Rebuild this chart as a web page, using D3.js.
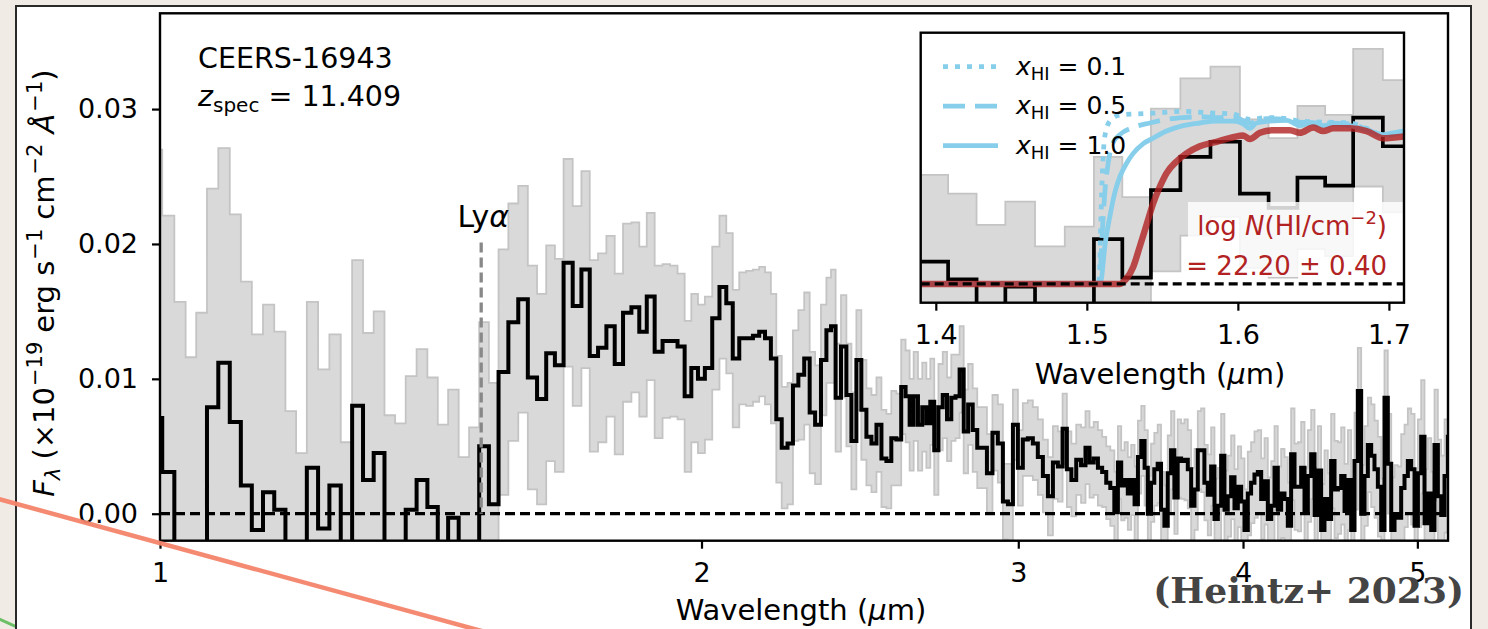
<!DOCTYPE html>
<html>
<head>
<meta charset="utf-8">
<style>
  body { margin: 0; background: #f0ece5; }
  svg text { font-family: "DejaVu Sans", sans-serif; fill: #000; }
</style>
</head>
<body>
<svg id="chart" width="1488" height="629"></svg>
<script src="https://d3js.org/d3.v7.min.js"></script>
<script>
// ---- spectrum (bin centres in micron, flux and 1-sigma error in 1e-19 erg/s/cm2/A) ----
const wave = [
  0.995, 1.0108, 1.0263, 1.0404, 1.0545, 1.0695, 1.0855, 1.1014, 1.1167, 1.1328,
  1.1491, 1.1659, 1.1825, 1.1982, 1.2154, 1.2332, 1.2511, 1.2696, 1.2881, 1.3055,
  1.3237, 1.3421, 1.3601, 1.3791, 1.3986, 1.4177, 1.4363, 1.4558, 1.4756, 1.4952,
  1.5142, 1.5328,
  1.5521, 1.5718, 1.5919, 1.6108, 1.6299, 1.6490, 1.6666, 1.6861, 1.7059, 1.7242,
  1.7426, 1.7613, 1.7802, 1.7992, 1.8186, 1.8381, 1.8557, 1.8736, 1.8936, 1.9119,
  1.9303, 1.9489, 1.9657, 1.9825, 1.9994, 2.0179, 2.0374, 2.0557, 2.0732, 2.0900,
  2.1080, 2.1270, 2.1452, 2.1613, 2.1775, 2.1939, 2.2080, 2.2245, 2.2411, 2.2555,
  2.2724, 2.2896, 2.3043, 2.3217, 2.3392, 2.3542, 2.3670,
  2.382, 2.400, 2.415, 2.431, 2.446, 2.462, 2.478, 2.494, 2.510, 2.526,
  2.542, 2.558, 2.575, 2.590, 2.604, 2.617, 2.631, 2.646, 2.660, 2.674,
  2.687, 2.701, 2.716, 2.731, 2.746, 2.761, 2.776, 2.790, 2.805, 2.822,
  2.838, 2.855, 2.872, 2.892, 2.913, 2.932, 2.951, 2.970, 2.989, 3.008,
  3.027, 3.047, 3.066, 3.086, 3.106, 3.126, 3.146, 3.166, 3.184, 3.201,
  3.221, 3.241, 3.261, 3.278, 3.295, 3.313, 3.331, 3.349, 3.366, 3.384,
  3.401, 3.415, 3.430, 3.444, 3.459, 3.474, 3.489, 3.504, 3.519, 3.534,
  3.548, 3.563, 3.578, 3.594, 3.609, 3.625, 3.640, 3.656, 3.671, 3.687,
  3.703, 3.719, 3.735, 3.751, 3.767, 3.783, 3.799, 3.815, 3.832, 3.848,
  3.865, 3.881, 3.898, 3.914, 3.931, 3.948, 3.965, 3.982, 3.999, 4.016,
  4.033, 4.050, 4.068, 4.085, 4.103, 4.120, 4.138, 4.156, 4.173, 4.191,
  4.209, 4.227, 4.245, 4.263, 4.282, 4.300, 4.318, 4.337, 4.355, 4.374,
  4.393, 4.411, 4.430, 4.449, 4.468, 4.487, 4.507, 4.526, 4.545, 4.565,
  4.584, 4.604, 4.623, 4.643, 4.663, 4.683, 4.703, 4.723, 4.743, 4.764,
  4.784, 4.804, 4.825, 4.846, 4.866, 4.887, 4.908, 4.929, 4.950, 4.971,
  4.993, 5.014, 5.035, 5.057, 5.079, 5.100, 5.122, 5.144, 5.166, 5.188,
  5.210
];
const flux = [
  0.0071, 0.0031, -0.0028, -0.0064, -0.0026, 0.0079, 0.0112, 0.0068, 0.0021, -0.0012,
  0.0016, 0.0003, -0.0054, -0.0082, 0.0034, -0.0011, 0.0021, -0.0057, 0.0080, 0.0025,
  0.0045, -0.0030, -0.0034, 0.0003, 0.0025, 0.0005, -0.0030, -0.0003, -0.0052, -0.0029,
  0.0050, 0.0007,
  0.0105, 0.0142, 0.0159, 0.0101, 0.0085, 0.0119, 0.0110, 0.0186, 0.0154, 0.0181,
  0.0117, 0.0123, 0.0139, 0.0111, 0.0149, 0.0153, 0.0135, 0.0161, 0.0120, 0.0128,
  0.0128, 0.0124, 0.0087, 0.0108, 0.0100, 0.0108, 0.0145, 0.0168, 0.0156, 0.0115,
  0.0130, 0.0130, 0.0132, 0.0135, 0.0130, 0.0115, 0.0070, 0.0049, 0.0052, 0.0095,
  0.0103, 0.0115, 0.0075, 0.0066, 0.0114, 0.0136, 0.0139,
  0.0086, 0.0124, 0.0088, 0.0054, 0.0114, 0.0077, 0.0057, 0.0052, 0.0066, 0.0041,
  0.0039, 0.0056, 0.0055, 0.0094, 0.0087, 0.0066, 0.0087, 0.0066, 0.0079, 0.0067,
  0.0083, 0.0047, 0.0079, 0.0088, 0.0070, 0.0086, 0.0087, 0.0107, 0.0061, 0.0081,
  0.0062, 0.0049, 0.0049, 0.0030, 0.0060, 0.0052, 0.0009, 0.0007, 0.0066, 0.0034,
  0.0055, 0.0056, 0.0052, 0.0042, 0.0028, 0.0013, 0.0038, 0.0035, 0.0063, 0.0033,
  0.0025, 0.0040, 0.0036, 0.0049, 0.0038, 0.0041, 0.0034, 0.0031, 0.0023, 0.0019,
  0.0001, 0.0038, 0.0021, 0.0025, 0.0015, 0.0025, 0.0007, 0.0042, 0.0054, 0.0034,
  0.0000, 0.0023, 0.0033, 0.0037, 0.0003, -0.0009, 0.0030, 0.0047, 0.0012, 0.0041,
  0.0039, 0.0040, 0.0033, 0.0006, 0.0018, 0.0047, 0.0047, 0.0023, 0.0014, 0.0035,
  -0.0004, 0.0006, 0.0043, 0.0003, 0.0013, 0.0027, 0.0004, 0.0020, 0.0009, -0.0012,
  0.0015, 0.0023, 0.0029, 0.0031, 0.0011, 0.0024, -0.0004, 0.0006, 0.0034, 0.0003,
  0.0015, 0.0011, -0.0009, 0.0044, 0.0020, 0.0020,
  0.0034, 0.0002, 0.0028, 0.0044, -0.0001, 0.0032, -0.0012, 0.0011, -0.0004, 0.0039,
  0.0018, 0.0019, 0.0028, 0.0002, 0.0025, -0.0012, 0.0039, 0.0091, 0.0000, 0.0028,
  0.0051, 0.0043, 0.0033, 0.0020, -0.0012, 0.0086, 0.0037, -0.0012, -0.0001, -0.0003,
  0.0019, 0.0028, 0.0039, 0.0033, -0.0009, 0.0030, 0.0057, -0.0007, 0.0015, -0.0012,
  0.0051, 0.0013, -0.0001, 0.0028, 0.0057
];
const fluxErr = [
  0.0199, 0.0190, 0.0185, 0.0180, 0.0175, 0.0162, 0.0159, 0.0154, 0.0151, 0.0145,
  0.0139, 0.0132, 0.0130, 0.0127, 0.0123, 0.0118, 0.0112, 0.0110, 0.0108, 0.0109,
  0.0105, 0.0103, 0.0101, 0.0099, 0.0097, 0.0096, 0.0096, 0.0095, 0.0094, 0.0093,
  0.0092, 0.0090,
  0.0091, 0.0088, 0.0084, 0.0083, 0.0078, 0.0080, 0.0079, 0.0077, 0.0074, 0.0073,
  0.0071, 0.0070, 0.0067, 0.0067, 0.0066, 0.0063, 0.0063, 0.0062, 0.0064, 0.0057,
  0.0056, 0.0054, 0.0056, 0.0055, 0.0055, 0.0053, 0.0053, 0.0053, 0.0052, 0.0051,
  0.0049, 0.0050, 0.0049, 0.0048, 0.0049, 0.0048, 0.0047, 0.0045, 0.0045, 0.0041,
  0.0048, 0.0049, 0.0045, 0.0044, 0.0041, 0.0039, 0.0042,
  0.0040, 0.0038, 0.0038, 0.0036, 0.0037, 0.0037, 0.0036, 0.0036, 0.0035, 0.0036,
  0.0035, 0.0035, 0.0034, 0.0035, 0.0034, 0.0034, 0.0033, 0.0034, 0.0033, 0.0033,
  0.0032, 0.0033, 0.0032, 0.0032, 0.0031, 0.0032, 0.0031, 0.0032, 0.0031, 0.0030,
  0.0031, 0.0030, 0.0030, 0.0029, 0.0028, 0.0029, 0.0028, 0.0030, 0.0026, 0.0028,
  0.0027, 0.0028, 0.0027, 0.0028, 0.0027, 0.0029, 0.0027, 0.0026, 0.0026, 0.0028,
  0.0027, 0.0026, 0.0028, 0.0027, 0.0026, 0.0027, 0.0028, 0.0026, 0.0027, 0.0028,
  0.0030, 0.0027, 0.0026, 0.0028, 0.0027, 0.0026, 0.0028, 0.0027, 0.0026, 0.0028,
  0.0028, 0.0029, 0.0027, 0.0029, 0.0028, 0.0030, 0.0028, 0.0029, 0.0027, 0.0029,
  0.0028, 0.0030, 0.0029, 0.0028, 0.0030, 0.0029, 0.0031, 0.0028, 0.0030, 0.0029,
  0.0030, 0.0028, 0.0031, 0.0029, 0.0030, 0.0031, 0.0029, 0.0030, 0.0032, 0.0030,
  0.0031, 0.0030, 0.0032, 0.0031, 0.0030, 0.0032, 0.0031, 0.0033, 0.0031, 0.0032,
  0.0033, 0.0031, 0.0032, 0.0034, 0.0032, 0.0033, 0.0034, 0.0032, 0.0034, 0.0033,
  0.0035, 0.0033, 0.0034, 0.0036, 0.0034, 0.0035, 0.0036, 0.0034, 0.0036, 0.0035,
  0.0037, 0.0035, 0.0036, 0.0032, 0.0036, 0.0037, 0.0035, 0.0038, 0.0036, 0.0037,
  0.0038, 0.0035, 0.0037, 0.0039, 0.0037, 0.0038, 0.0040, 0.0038, 0.0039, 0.0041,
  0.0039, 0.0040, 0.0042, 0.0040, 0.0041, 0.0043, 0.0041, 0.0042, 0.0044, 0.0042,
  0.0043
];

// ---- damping-wing models shown in the inset ----
const xhi01Wave = [1.39, 1.5075, 1.5082, 1.5093, 1.5104, 1.5119, 1.5152, 1.5219, 1.5307, 1.5439, 1.5638, 1.5748, 1.5859, 1.5969, 1.6079, 1.6190, 1.6323, 1.6411, 1.6566, 1.6742, 1.6852, 1.6962, 1.7099];
const xhi01Flux = [0, 0, 0.0006, 0.0072, 0.0128, 0.0165, 0.0182, 0.0189, 0.0190, 0.0191, 0.0193, 0.0192, 0.0191, 0.0190, 0.0184, 0.0186, 0.0185, 0.0182, 0.0181, 0.0180, 0.0174, 0.0167, 0.0171];
const xhi05Wave = [1.39, 1.508, 1.5086, 1.5102, 1.5119, 1.5141, 1.5174, 1.5219, 1.5307, 1.5417, 1.5528, 1.5638, 1.5748, 1.5859, 1.5969, 1.6079, 1.6190, 1.6323, 1.6411, 1.6566, 1.6742, 1.6852, 1.6962, 1.7099];
const xhi05Flux = [0, 0, 0.0006, 0.0057, 0.0102, 0.0135, 0.0158, 0.0167, 0.0175, 0.0180, 0.0184, 0.0186, 0.0187, 0.0186, 0.0187, 0.0180, 0.0185, 0.0184, 0.0181, 0.0180, 0.0179, 0.0173, 0.0166, 0.0170];
const xhi10Wave = [1.39, 1.509, 1.5097, 1.5119, 1.5152, 1.5185, 1.5219, 1.5263, 1.5307, 1.5374, 1.5439, 1.5528, 1.5638, 1.5748, 1.5859, 1.5969, 1.6035, 1.6079, 1.6124, 1.6212, 1.6323, 1.6411, 1.6477, 1.6566, 1.6631, 1.6742, 1.6852, 1.6962, 1.7029, 1.7099];
const xhi10Flux = [0, 0, 0.0006, 0.0042, 0.0075, 0.0102, 0.0120, 0.0135, 0.0146, 0.0157, 0.0163, 0.0171, 0.0177, 0.0180, 0.0182, 0.0182, 0.0179, 0.0174, 0.0180, 0.0182, 0.0183, 0.0177, 0.0180, 0.0177, 0.0179, 0.0177, 0.0172, 0.0167, 0.0169, 0.0171];
const fitWave = [1.39, 1.5219, 1.5263, 1.5307, 1.5351, 1.5395, 1.5439, 1.5484, 1.5528, 1.5594, 1.5660, 1.5748, 1.5859, 1.5969, 1.6035, 1.6079, 1.6146, 1.6234, 1.6345, 1.6411, 1.6499, 1.6566, 1.6631, 1.6742, 1.6852, 1.6962, 1.7099];
const fitFlux = [0, 0, 0.0006, 0.0019, 0.0042, 0.0066, 0.0090, 0.0109, 0.0124, 0.0137, 0.0146, 0.0154, 0.0159, 0.0164, 0.0166, 0.0162, 0.0169, 0.0172, 0.0172, 0.0169, 0.0175, 0.0171, 0.0174, 0.0174, 0.0171, 0.0163, 0.0165];

const xTicks = [1, 2, 3, 4, 5];
const yTicks = [0, 0.01, 0.02, 0.03];
const insetTicks = [1.4, 1.5, 1.6, 1.7];
const zSpec = 11.409;
const lyaRest = 0.121567;
const lyaLineTop = 0.0201;
const legendLabels = ['0.1', '0.5', '1.0'];

const svg = d3.select('#chart');
const sky = '#87ceeb';
const red = '#b22222';

// page decoration: beige paper, card, stray pen lines
svg.append('rect').attr('width', 1488).attr('height', 629).attr('fill', '#f0ece5');
svg.append('line').attr('x1', -5).attr('y1', 617).attr('x2', 30).attr('y2', 633)
  .attr('stroke', '#6cbf66').attr('stroke-width', 3);
svg.append('rect').attr('x', 16).attr('y', 6).attr('width', 1455).attr('height', 640)
  .attr('fill', '#fff').attr('stroke', '#2a2a2a').attr('stroke-width', 2);

// ---- main panel ----
const x = d3.scaleLog().domain([1, 5.2]).range([160, 1448]);
const y = d3.scaleLinear().domain([-0.002, 0.0371]).range([540.7, 13.3]);
const idx = d3.range(wave.length);

svg.append('clipPath').attr('id', 'mainClip').append('rect')
  .attr('x', 160).attr('y', 13.3).attr('width', 1288).attr('height', 527.4);
const main = svg.append('g').attr('clip-path', 'url(#mainClip)');

const band = (sx, sy) => d3.area().curve(d3.curveStep)
  .x(i => sx(wave[i]))
  .y0(i => sy(flux[i] - fluxErr[i]))
  .y1(i => sy(flux[i] + fluxErr[i]));
const stepLine = (sx, sy) => d3.line().curve(d3.curveStep)
  .x(i => sx(wave[i]))
  .y(i => sy(flux[i]));

main.append('path').datum(idx).attr('d', band(x, y))
  .attr('fill', '#d9d9d9').attr('stroke', '#c4c4c4').attr('stroke-width', 1.8);
main.append('path').datum(idx).attr('d', stepLine(x, y))
  .attr('fill', 'none').attr('stroke', '#000').attr('stroke-width', 4);
main.append('line').attr('x1', 160).attr('x2', 1448).attr('y1', y(0)).attr('y2', y(0))
  .attr('stroke', '#000').attr('stroke-width', 3.3).attr('stroke-dasharray', '10,5');

const lyaWave = lyaRest * (1 + zSpec);
main.append('line').attr('x1', x(lyaWave)).attr('x2', x(lyaWave))
  .attr('y1', y(lyaLineTop)).attr('y2', y(0))
  .attr('stroke', '#888').attr('stroke-width', 3.3).attr('stroke-dasharray', '10,5');
const lya = svg.append('text').attr('x', x(lyaWave) + 2).attr('y', y(lyaLineTop) - 16)
  .attr('text-anchor', 'middle').attr('font-size', 30);
lya.append('tspan').text('Ly');
lya.append('tspan').attr('font-style', 'italic').text('α');

svg.append('rect').attr('x', 160).attr('y', 13.3).attr('width', 1288).attr('height', 527.4)
  .attr('fill', 'none').attr('stroke', '#000').attr('stroke-width', 2.4);

const styleAxis = g => {
  g.select('.domain').remove();
  g.selectAll('.tick line').attr('stroke', '#000').attr('stroke-width', 2.2);
  g.selectAll('.tick text').attr('font-size', 27).attr('fill', '#000')
    .attr('font-family', '"DejaVu Sans", sans-serif');
};
svg.append('g').attr('transform', 'translate(0,540.7)')
  .call(d3.axisBottom(x).tickValues(xTicks).tickFormat(d3.format('d')).tickSize(8).tickPadding(14))
  .call(styleAxis);
svg.append('g').attr('transform', 'translate(160,0)')
  .call(d3.axisLeft(y).tickValues(yTicks).tickFormat(d3.format('.2f')).tickSize(8).tickPadding(14))
  .call(styleAxis);

svg.append('text').attr('x', 801).attr('y', 620).attr('text-anchor', 'middle')
  .attr('font-size', 29).html('Wavelength (<tspan font-style="italic">μ</tspan>m)');

// y label, written like matplotlib mathtext
const yl = svg.append('text').attr('transform', 'translate(54,283) rotate(-90)')
  .attr('text-anchor', 'middle').attr('font-size', 29);
yl.append('tspan').attr('font-style', 'italic').text('F');
yl.append('tspan').attr('font-style', 'italic').attr('font-size', 21).attr('dy', 6).text('λ');
yl.append('tspan').attr('dy', -6).attr('dx', 8).text('(×10');
yl.append('tspan').attr('font-size', 21).attr('dy', -12).attr('dx', 1).text('−19');
yl.append('tspan').attr('dy', 12).attr('dx', 9).text('erg s');
yl.append('tspan').attr('font-size', 21).attr('dy', -12).attr('dx', 1).text('−1');
yl.append('tspan').attr('dy', 12).attr('dx', 9).text('cm');
yl.append('tspan').attr('font-size', 21).attr('dy', -12).attr('dx', 1).text('−2');
yl.append('tspan').attr('dy', 12).attr('dx', 10).attr('font-style', 'italic').text('Å');
yl.append('tspan').attr('font-size', 21).attr('dy', -12).attr('dx', 2).text('−1');
yl.append('tspan').attr('dy', 12).text(')');

svg.append('text').attr('x', 198).attr('y', 68).attr('font-size', 28.5).text('CEERS-16943');
const zt = svg.append('text').attr('x', 198).attr('y', 106).attr('font-size', 28.5);
zt.append('tspan').attr('font-style', 'italic').text('z');
zt.append('tspan').attr('font-size', 20).attr('dy', 6).text('spec');
zt.append('tspan').attr('dy', -6).text(' = ' + zSpec.toFixed(3));

// ---- inset ----
const ix = d3.scaleLinear().domain([1.39, 1.71]).range([920.7, 1404]);
const iy = d3.scaleLinear().domain([-0.0021, 0.0281]).range([302.7, 32.7]);
svg.append('rect').attr('x', 920.7).attr('y', 32.7).attr('width', 483.3).attr('height', 270)
  .attr('fill', '#fff');
svg.append('clipPath').attr('id', 'insetClip').append('rect')
  .attr('x', 920.7).attr('y', 32.7).attr('width', 483.3).attr('height', 270);
const inset = svg.append('g').attr('clip-path', 'url(#insetClip)');
const insetIdx = idx.filter(i => wave[i] > 1.35 && wave[i] < 1.75);

inset.append('path').datum(insetIdx).attr('d', band(ix, iy))
  .attr('fill', '#d9d9d9').attr('stroke', '#c4c4c4').attr('stroke-width', 1.8);
inset.append('path').datum(insetIdx).attr('d', stepLine(ix, iy))
  .attr('fill', 'none').attr('stroke', '#000').attr('stroke-width', 3.7);

const model = (w, f) => d3.line().curve(d3.curveMonotoneX)
  .x((d, i) => ix(w[i])).y((d, i) => iy(f[i]))(w);
const dashes = ['5,7', '22,10', null];
[[xhi01Wave, xhi01Flux], [xhi05Wave, xhi05Flux], [xhi10Wave, xhi10Flux]].forEach(([w, f], k) => {
  inset.append('path').attr('d', model(w, f)).attr('fill', 'none')
    .attr('stroke', sky).attr('stroke-width', 4.8)
    .attr('stroke-dasharray', dashes[k]);
});
inset.append('path').attr('d', model(fitWave, fitFlux)).attr('fill', 'none')
  .attr('stroke', red).attr('stroke-opacity', 0.8).attr('stroke-width', 6.5);
inset.append('line').attr('x1', 920.7).attr('x2', 1404).attr('y1', iy(0)).attr('y2', iy(0))
  .attr('stroke', '#000').attr('stroke-width', 3.3).attr('stroke-dasharray', '9,5');
inset.append('rect').attr('x', 1188).attr('y', 202).attr('width', 230).attr('height', 75)
  .attr('fill', '#fff').attr('fill-opacity', 0.82);

svg.append('rect').attr('x', 920.7).attr('y', 32.7).attr('width', 483.3).attr('height', 270)
  .attr('fill', 'none').attr('stroke', '#000').attr('stroke-width', 2.4);
svg.append('g').attr('transform', 'translate(0,302.7)')
  .call(d3.axisBottom(ix).tickValues(insetTicks).tickFormat(d3.format('.1f')).tickSize(8).tickPadding(14))
  .call(styleAxis);
svg.append('text').attr('x', 1160).attr('y', 384).attr('text-anchor', 'middle')
  .attr('font-size', 29).html('Wavelength (<tspan font-style="italic">μ</tspan>m)');

// legend
legendLabels.forEach((lab, k) => {
  const ly = 66.7 + k * 39.5;
  svg.append('line').attr('x1', 943).attr('x2', 998).attr('y1', ly).attr('y2', ly)
    .attr('stroke', sky).attr('stroke-width', 4.8).attr('stroke-dasharray', dashes[k]);
  const t = svg.append('text').attr('x', 1016).attr('y', ly + 8).attr('font-size', 25);
  t.append('tspan').attr('font-style', 'italic').text('x');
  t.append('tspan').attr('font-size', 18).attr('dy', 5).text('HI');
  t.append('tspan').attr('dy', -5).text(' = ' + lab);
});

// column density annotation
const n1 = svg.append('text').attr('x', 1387).attr('y', 235).attr('text-anchor', 'end')
  .attr('font-size', 26).style('fill', red);
n1.append('tspan').text('log ');
n1.append('tspan').attr('font-style', 'italic').text('N');
n1.append('tspan').text('(HI/cm');
n1.append('tspan').attr('font-size', 18).attr('dy', -11).text('−2');
n1.append('tspan').attr('dy', 11).text(')');
svg.append('text').attr('x', 1387).attr('y', 275).attr('text-anchor', 'end')
  .attr('font-size', 26).style('fill', red).text('= 22.20 ± 0.40');

// citation and pen stroke over the card
svg.append('text').attr('x', 1464).attr('y', 603).attr('text-anchor', 'end')
  .attr('font-size', 36).attr('font-weight', 'bold')
  .style('font-family', '"DejaVu Serif", serif').style('fill', '#444')
  .text('(Heintz+ 2023)');
svg.append('line').attr('x1', -5).attr('y1', 498).attr('x2', 500).attr('y2', 636)
  .attr('stroke', '#f4846c').attr('stroke-width', 4.5).attr('stroke-opacity', 0.95);
</script>
</body>
</html>
